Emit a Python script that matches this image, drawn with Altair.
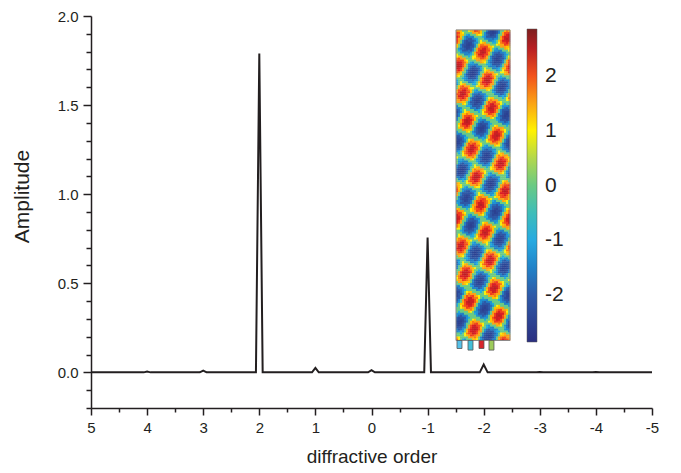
import altair as alt
import pandas as pd
import numpy as np

# ---- main spectrum ----
orders = [5, 4.06, 4, 3.94, 3.06, 3, 2.94, 2.06, 2, 1.94, 1.06, 1, 0.94,
          0.06, 0, -0.06, -0.94, -1, -1.06, -1.93, -2, -2.07, -2.94, -3, -3.06,
          -3.94, -4, -4.06, -5]
amps = [0, 0, 0.005, 0, 0, 0.01, 0, 0, 1.79, 0, 0, 0.025, 0,
        0, 0.012, 0, 0, 0.757, 0, 0, 0.044, 0, 0, 0.002, 0,
        0, 0.002, 0, 0]

x_ticks = [5, 4.5, 4, 3.5, 3, 2.5, 2, 1.5, 1, 0.5, 0, -0.5, -1, -1.5, -2,
           -2.5, -3, -3.5, -4, -4.5, -5]
y_ticks = [-0.2, -0.1, 0.0, 0.1, 0.2, 0.3, 0.4, 0.5, 0.6, 0.7, 0.8, 0.9, 1.0,
           1.1, 1.2, 1.3, 1.4, 1.5, 1.6, 1.7, 1.8, 1.9, 2.0]

# ---- inset field picture: blob profile over one period of the checkerboard ----
shape_profile = [1.0, 0.96, 0.84, 0.62, 0.0, -0.62, -0.84, -0.96,
                 -1.0, -0.96, -0.84, -0.62, 0.0, 0.62, 0.84, 0.96]
field_peak = 2.5
colorbar_labels = [2, 1, 0, -1, -2]
cbar_domain = [-2.85, -2.0, -1.0, -0.4, 0.3, 1.0, 1.6, 2.2, 2.85]
cbar_colors = ["#2b2f80", "#2e5aa8", "#27aae1", "#4fbfb0", "#9ccb5a",
               "#fff200", "#f7941d", "#ed1c24", "#7d1f1f"]
port_colors = ["#55c1e9", "#41bfd9", "#d7262b", "#9dcb5b"]

FONT = "Liberation Sans"
INK = "#231f20"

# inset layout (in data units of the main axes)
IMG_X0, IMG_X1 = -1.506, -2.469
IMG_Y0, IMG_Y1 = 0.179, 1.922
IMG_PW, IMG_PH = 54.0, 313.0          # picture size in its own pixel grid
NX, NY = 27, 157
LAT_O = (15.7, 120.3)                 # a red blob centre
CELL_P = (14.5, 7.15)                 # red -> blue neighbour
CELL_Q = (-10.0, 20.85)               # red -> other blue neighbour

det = CELL_P[0] * CELL_Q[1] - CELL_Q[0] * CELL_P[1]
n = len(shape_profile)
rows = []
dxd = (IMG_X1 - IMG_X0) / NX
dyd = (IMG_Y1 - IMG_Y0) / NY
for j in range(NY):
    for i in range(NX):
        px = (i + 0.5) * IMG_PW / NX
        py = (j + 0.5) * IMG_PH / NY
        dx, dy = px - LAT_O[0], py - LAT_O[1]
        s = (CELL_Q[1] * dx - CELL_Q[0] * dy) / det
        t = (-CELL_P[1] * dx + CELL_P[0] * dy) / det
        i_s = int(np.floor((s % 2.0) / 2.0 * n + 0.5)) % n
        i_t = int(np.floor((t % 2.0) / 2.0 * n + 0.5)) % n
        f = field_peak * shape_profile[i_s] * shape_profile[i_t]
        x0 = IMG_X0 + i * dxd
        y0 = IMG_Y1 - j * dyd
        rows.append({"x": x0, "x2": x0 + dxd * 1.15, "y": y0, "y2": y0 - dyd * 1.15, "f": f})
field = pd.DataFrame(rows)

line_df = pd.DataFrame({"order": orders, "amp": amps})

xscale = alt.Scale(domain=[-5, 5], reverse=True, nice=False)
yscale = alt.Scale(domain=[-0.2, 2.0], nice=False)

x_axis = alt.Axis(
    values=x_ticks, tickCount=100, title="diffractive order", titleFontSize=19, titleFont=FONT,
    titleFontWeight="normal", titleColor=INK, titlePadding=12,
    labelExpr="abs(datum.value - round(datum.value)) < 1e-6 ? '' + datum.value : ''",
    labelFont=FONT, labelFontSize=15, labelColor=INK, labelPadding=5,
    labelOverlap=False, labelFlush=False,
    tickSize={"condition": {"test": "abs(datum.value - round(datum.value)) < 1e-6", "value": 7}, "value": 4},
    tickColor=INK, tickWidth=1.5, domainColor=INK, domainWidth=1.5, grid=False,
)
y_axis = alt.Axis(
    values=y_ticks, tickCount=100, title="Amplitude", titleFontSize=21, titleFont=FONT,
    titleFontWeight="normal", titleColor=INK, titlePadding=25, titleY=180,
    labelExpr="abs(datum.value*2 - round(datum.value*2)) < 1e-6 ? format(datum.value, '.1f') : ''",
    labelFont=FONT, labelFontSize=15, labelColor=INK, labelPadding=5,
    labelOverlap=False, labelFlush=False,
    tickSize={"condition": {"test": "abs(datum.value*2 - round(datum.value*2)) < 1e-6", "value": 8}, "value": 5},
    tickColor=INK, tickWidth=1.5, domainColor=INK, domainWidth=1.5, grid=False,
)

heat = alt.Chart(field).mark_rect(strokeWidth=0).encode(
    x=alt.X("x:Q", scale=xscale, axis=x_axis),
    x2="x2:Q",
    y=alt.Y("y:Q", scale=yscale, axis=y_axis),
    y2="y2:Q",
    color=alt.Color("f:Q", scale=alt.Scale(domain=cbar_domain, range=cbar_colors),
                    legend=alt.Legend(orient="none", legendX=436, legendY=13,
                                      direction="vertical", gradientLength=313,
                                      gradientThickness=10, values=colorbar_labels,
                                      labelExpr="'' + datum.value",
                                      title=None, labelFontSize=21, labelFont=FONT,
                                      labelColor=INK, labelOffset=8, padding=0,
                                      gradientStrokeColor="#555555",
                                      gradientStrokeWidth=0.5)),
)

frame_df = pd.DataFrame({"x": [IMG_X0], "x2": [IMG_X1], "y": [IMG_Y0], "y2": [IMG_Y1]})
frame = alt.Chart(frame_df).mark_rect(fill=None, stroke="#8a8a8a", strokeWidth=1).encode(
    x="x:Q", x2="x2:Q", y="y:Q", y2="y2:Q")

port_x = [-1.524, -1.720, -1.916, -2.094]
port_w = 0.089
ports_df = pd.DataFrame({"x": port_x, "x2": [p - port_w for p in port_x],
                         "y": [0.179] * 4, "y2": [0.134, 0.125, 0.134, 0.125],
                         "c": port_colors})
ports = alt.Chart(ports_df).mark_rect(stroke="#555555", strokeWidth=0.8).encode(
    x="x:Q", x2="x2:Q", y="y:Q", y2="y2:Q",
    fill=alt.Fill("c:N", scale=None))

line = alt.Chart(line_df).mark_line(color=INK, strokeWidth=2).encode(
    x=alt.X("order:Q", scale=xscale),
    y=alt.Y("amp:Q", scale=yscale),
)

chart = alt.layer(heat, frame, ports, line).properties(
    width=561, height=392,
    padding={"left": 83, "top": 8, "right": 21, "bottom": 63},
    autosize=alt.AutoSizeParams(type="none"),
).configure_view(stroke=None)

chart.save("out.html", embed_options={"renderer": "svg", "actions": False})
